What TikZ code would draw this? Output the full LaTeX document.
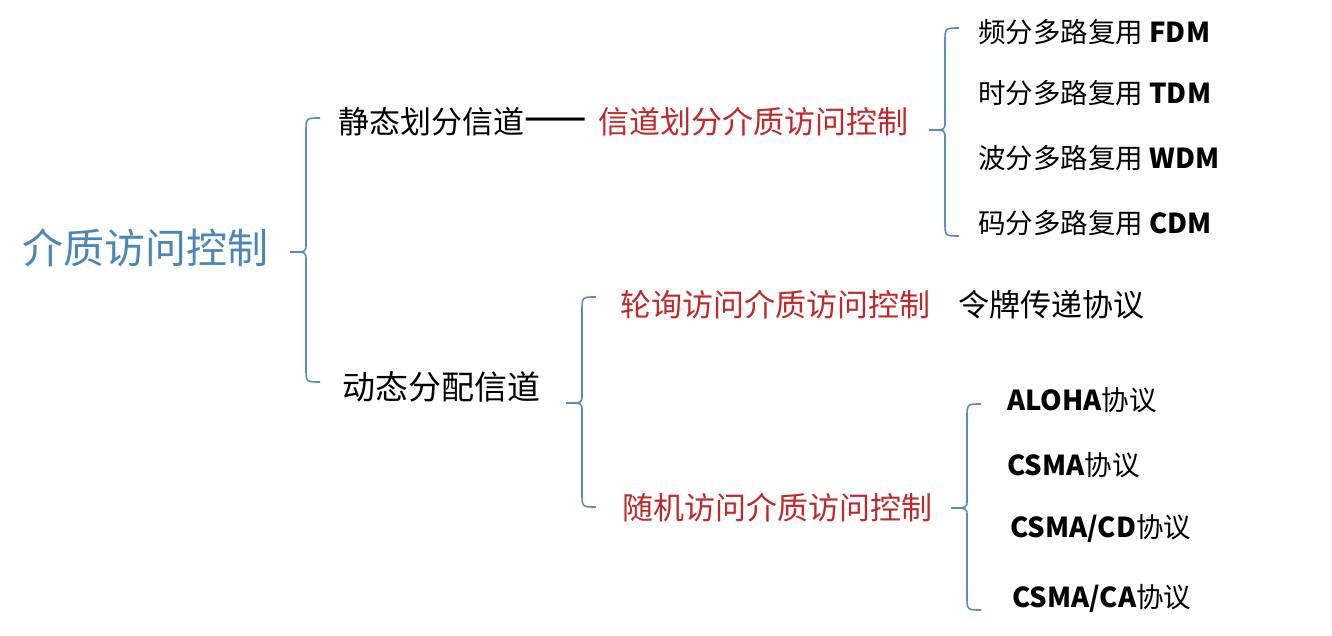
\documentclass[tikz,border=0pt]{standalone}
\usepackage{fontspec}
\setmainfont{Noto Sans CJK SC}
\begin{document}
\begin{tikzpicture}[x=1pt,y=-1pt,
  br/.style={draw=brc,line width=1.6pt},
  t/.style={anchor=west,inner sep=0pt,font=\fontsize{31}{34}\selectfont},
  s/.style={anchor=west,inner sep=0pt,font=\fontsize{27.5}{30}\selectfont},
  red/.style={text=redc}]
\definecolor{brc}{HTML}{5B8CC0}
\definecolor{redc}{HTML}{C0282A}
\definecolor{bluec}{HTML}{4A86B8}
\useasboundingbox (0,0) rectangle (1332,636);
\newcommand{\mybrace}[4]{%
 \draw[br] (#1+14,#2) .. controls (#1,#2) .. (#1,#2+14) -- (#1,#3-8) .. controls (#1,#3) .. (#1-16,#3)
   .. controls (#1,#3) .. (#1,#3+8) -- (#1,#4-14) .. controls (#1,#4) .. (#1+14,#4);}
\node[anchor=west,inner sep=0pt,text=bluec,font=\fontsize{41}{44}\selectfont] (root) at (22,248) {介质访问控制};
\mybrace{306}{118}{252}{382}
\node[t] (s1) at (338,122) {静态划分信道\scalebox{1.2}[1.6]{——}};
\node[t,red] (s1r) at (598,122) {信道划分介质访问控制};
\mybrace{945}{28}{130}{236}
\node[s] (f1) at (978,32) {频分多路复用 \textbf{FDM}};
\node[s] (f2) at (978,93) {时分多路复用 \textbf{TDM}};
\node[s] (f3) at (978,158) {波分多路复用 \textbf{WDM}};
\node[s] (f4) at (978,223) {码分多路复用 \textbf{CDM}};
\node[t,font=\fontsize{33}{36}\selectfont] (s2) at (342,387) {动态分配信道};
\mybrace{582}{297}{403}{507}
\node[t,red] (p1) at (620,305) {轮询访问介质访问控制};
\node[t] (p2) at (958,305) {令牌传递协议};
\node[t,red] (r1) at (622,508) {随机访问介质访问控制};
\mybrace{967}{404}{508}{610}
\node[s] (a1) at (1007,400) {\textbf{ALOHA}协议};
\node[s] (a2) at (1007,465) {\textbf{CSMA}协议};
\node[s] (a3) at (1010,528) {\textbf{CSMA/CD}协议};
\node[s] (a4) at (1012,598) {\textbf{CSMA/CA}协议};
\end{tikzpicture}
\end{document}
